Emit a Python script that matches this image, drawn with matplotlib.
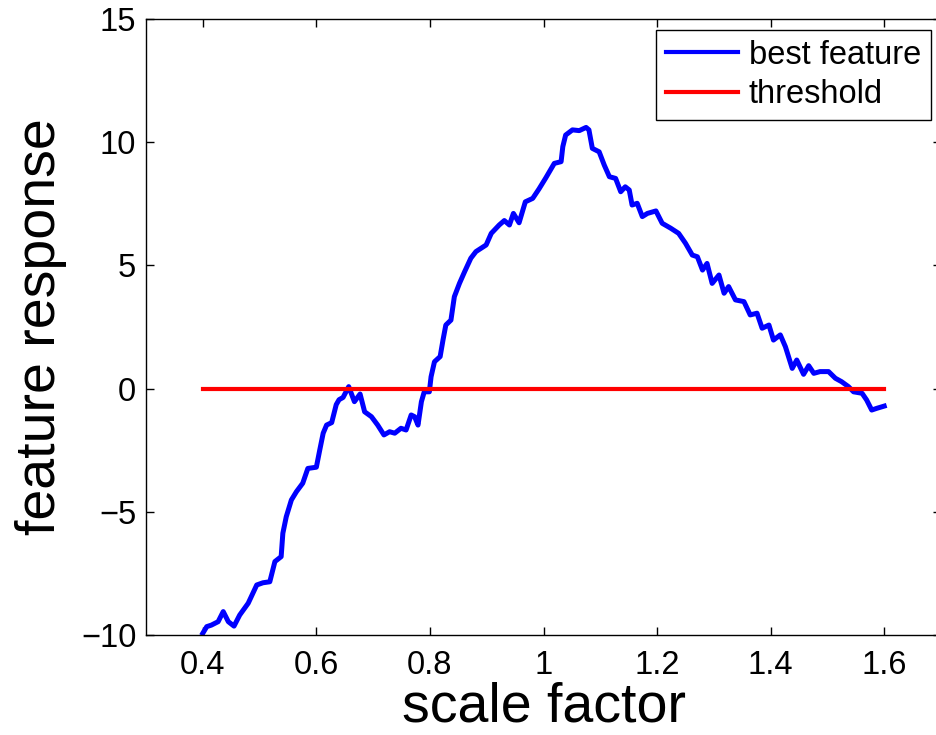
import matplotlib
matplotlib.use("Agg")
import matplotlib.pyplot as plt

scale = [0.400, 0.407, 0.415, 0.427, 0.436, 0.445, 0.455, 0.465, 0.480, 0.495,
         0.506, 0.518, 0.527, 0.538, 0.541, 0.547, 0.556, 0.565, 0.576, 0.585,
         0.600, 0.606, 0.612, 0.618, 0.627, 0.635, 0.640, 0.647, 0.657, 0.667,
         0.677, 0.685, 0.697, 0.708, 0.719, 0.729, 0.738, 0.749, 0.758, 0.767,
         0.773, 0.779, 0.785, 0.790, 0.799, 0.802, 0.808, 0.818, 0.823, 0.828,
         0.837, 0.843, 0.852, 0.861, 0.872, 0.881, 0.899, 0.908, 0.922, 0.931,
         0.940, 0.947, 0.957, 0.968, 0.981, 0.992, 1.004, 1.019, 1.031, 1.034,
         1.039, 1.051, 1.063, 1.075, 1.080, 1.086, 1.098, 1.107, 1.116, 1.127,
         1.136, 1.144, 1.151, 1.156, 1.165, 1.174, 1.183, 1.198, 1.209, 1.224,
         1.238, 1.250, 1.262, 1.271, 1.280, 1.288, 1.297, 1.309, 1.318, 1.326,
         1.338, 1.353, 1.364, 1.376, 1.385, 1.397, 1.405, 1.417, 1.426, 1.438,
         1.446, 1.458, 1.467, 1.476, 1.487, 1.502, 1.514, 1.525, 1.537, 1.546,
         1.561, 1.569, 1.578, 1.587, 1.600]

response = [-9.93, -9.66, -9.60, -9.46, -9.05, -9.46, -9.64, -9.19, -8.71, -7.97,
            -7.88, -7.84, -7.02, -6.82, -5.87, -5.20, -4.52, -4.18, -3.84, -3.24,
            -3.19, -2.49, -1.81, -1.48, -1.38, -0.65, -0.45, -0.36, 0.08, -0.53,
            -0.22, -0.94, -1.14, -1.48, -1.88, -1.75, -1.81, -1.61, -1.68, -1.07,
            -1.14, -1.48, -0.53, -0.13, -0.13, 0.48, 1.09, 1.30, 1.97, 2.58,
            2.78, 3.73, 4.27, 4.74, 5.29, 5.56, 5.83, 6.30, 6.64, 6.82,
            6.64, 7.11, 6.73, 7.58, 7.72, 8.10, 8.55, 9.14, 9.21, 9.82,
            10.29, 10.50, 10.47, 10.60, 10.50, 9.75, 9.61, 9.07, 8.60, 8.53,
            7.99, 8.19, 8.06, 7.45, 7.52, 6.98, 7.11, 7.21, 6.71, 6.51,
            6.30, 5.90, 5.42, 5.35, 4.81, 5.08, 4.27, 4.61, 3.87, 4.14,
            3.60, 3.53, 2.99, 3.06, 2.45, 2.58, 1.97, 2.18, 1.70, 0.82,
            1.16, 0.58, 0.93, 0.62, 0.69, 0.69, 0.42, 0.28, 0.08, -0.13,
            -0.19, -0.46, -0.87, -0.80, -0.71]

threshold_x = [0.4, 1.6]
threshold_y = [0.0, 0.0]

xticks = [0.4, 0.6, 0.8, 1.0, 1.2, 1.4, 1.6]
xticklabels = ["0.4", "0.6", "0.8", "1", "1.2", "1.4", "1.6"]
yticks = [-10, -5, 0, 5, 10, 15]
yticklabels = ["\u221210", "\u22125", "0", "5", "10", "15"]

plt.rcParams['font.family'] = ['Liberation Sans', 'DejaVu Sans']

fig = plt.figure(figsize=(9.37, 7.35), dpi=100)
ax = fig.add_axes([146/937, 100/735, (941-146)/937, (635-19)/735])

ax.plot(scale, response, color='#0000ff', lw=3.6, label='best feature', solid_joinstyle='round')
ax.plot(threshold_x, threshold_y, color='#ff0000', lw=3.0, label='threshold')

ax.set_xlim(0.3, 1.7)
ax.set_ylim(-10, 15)
ax.set_xticks(xticks)
ax.set_xticklabels(xticklabels)
ax.set_yticks(yticks)
ax.set_yticklabels(yticklabels)

ax.tick_params(direction='in', top=True, right=True, length=6, width=1,
               labelsize=23.5, colors='black')
ax.tick_params(axis='x', pad=11)
ax.tick_params(axis='y', pad=7)
for s in ax.spines.values():
    s.set_linewidth(1.0)

ax.set_xlabel('scale factor', fontsize=40, labelpad=0)
ax.set_ylabel('feature response', fontsize=40, labelpad=10)

leg = ax.legend(loc='upper right', bbox_to_anchor=(931/937, 1 - 30/735),
                bbox_transform=fig.transFigure, borderaxespad=0,
                fontsize=23.5, fancybox=False, edgecolor='black', framealpha=1,
                handlelength=2.2, handletextpad=0.35, labelspacing=0.25,
                borderpad=0.3)
leg.get_frame().set_linewidth(1.0)
for line in leg.get_lines():
    line.set_linewidth(3.0)

fig.savefig('out.png', dpi=100)
